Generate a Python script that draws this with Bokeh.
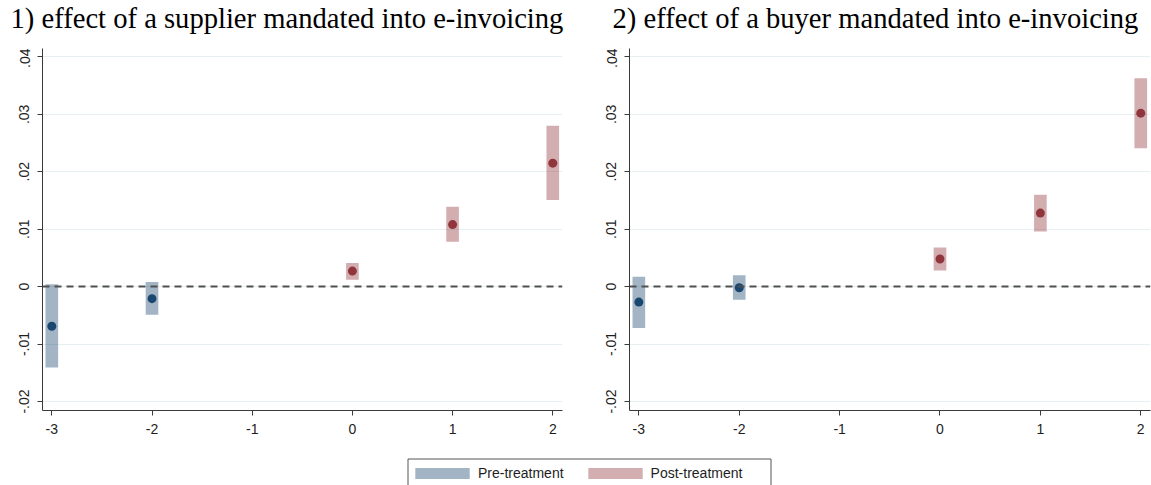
import numpy as np
from bokeh.plotting import figure
from bokeh.models import (ColumnDataSource, Span, FixedTicker, Legend,
                          LegendItem, Range1d)
from bokeh.core.properties import value
from bokeh.layouts import column, row
from bokeh.embed import file_html
from bokeh.resources import INLINE

# Event-study estimates (years relative to mandate; -1 is the reference year)
event_time = [-3, -2, 0, 1, 2]
phase = ["Pre-treatment", "Pre-treatment", "Post-treatment", "Post-treatment", "Post-treatment"]

supplier_coef = [-0.0069, -0.0021, 0.0027, 0.0108, 0.0215]
supplier_lo = [-0.0141, -0.0049, 0.0012, 0.0078, 0.0151]
supplier_hi = [0.0004, 0.0008, 0.0041, 0.0139, 0.0280]

buyer_coef = [-0.0027, -0.0002, 0.0048, 0.0128, 0.0302]
buyer_lo = [-0.0072, -0.0023, 0.0028, 0.0096, 0.0241]
buyer_hi = [0.0017, 0.0020, 0.0068, 0.0160, 0.0363]

x_ticks = [-3, -2, -1, 0, 1, 2]
x_tick_labels = ["-3", "-2", "-1", "0", "1", "2"]
y_ticks = [-0.02, -0.01, 0.0, 0.01, 0.02, 0.03, 0.04]
y_tick_labels = ["-.02", "-.01", "0", ".01", ".02", ".03", ".04"]

panel_titles = ["1) effect of a supplier mandated into e-invoicing",
                "2) effect of a buyer mandated into e-invoicing"]
legend_labels = ["Pre-treatment", "Post-treatment"]

NAVY = "#1a476f"
MAROON = "#90353b"
phase_color = {"Pre-treatment": NAVY, "Post-treatment": MAROON}

PAGE_W = 1151
TITLE_H = 48
FRAME_H = 362
BOTTOM = 26
MAIN_H = FRAME_H + BOTTOM
LEG_H = 485 - TITLE_H - MAIN_H
LABEL_FONT = "Liberation Sans"


def strip(height):
    """A blank full-width strip whose data units are pixels."""
    s = figure(width=PAGE_W, height=height, output_backend="svg",
               toolbar_location=None, min_border=0,
               x_range=Range1d(0, PAGE_W), y_range=Range1d(0, height))
    s.axis.visible = False
    s.grid.visible = False
    s.outline_line_color = None
    return s


def make_panel(coef, lo, hi, border_left, frame_w, border_right):
    src = ColumnDataSource(dict(
        t=event_time, coef=coef, lo=lo, hi=hi,
        color=[phase_color[ph] for ph in phase],
    ))
    p = figure(frame_width=frame_w, frame_height=FRAME_H,
               min_border_left=border_left, min_border_right=border_right,
               min_border_top=0, min_border_bottom=BOTTOM,
               x_range=Range1d(-3.093, 2.097), y_range=Range1d(-0.02157, 0.04146),
               output_backend="svg", toolbar_location=None,
               background_fill_color="white", border_fill_color="white")
    p.outline_line_color = None

    # confidence intervals as shaded bars
    p.vbar(x="t", bottom="lo", top="hi", width=0.126, source=src,
           fill_color="color", fill_alpha=0.4, line_color=None)

    zero = Span(location=0, dimension="width", line_color="#505050",
                line_width=2, line_dash="7 5", level="glyph")
    p.add_layout(zero)

    p.scatter(x="t", y="coef", source=src, size=9, fill_color="color",
              line_color="color", line_width=0)

    p.xaxis.ticker = FixedTicker(ticks=x_ticks, minor_ticks=[])
    p.xaxis.major_label_overrides = {t: s for t, s in zip(x_ticks, x_tick_labels)}
    p.yaxis.ticker = FixedTicker(ticks=y_ticks, minor_ticks=[])
    p.yaxis.major_label_overrides = {t: s for t, s in zip(y_ticks, y_tick_labels)}
    p.yaxis.major_label_orientation = "vertical"

    for ax in (p.xaxis, p.yaxis):
        ax.axis_line_color = "#3a3a3a"
        ax.axis_line_width = 1
        ax.major_tick_line_color = "#3a3a3a"
        ax.major_tick_out = 5
        ax.major_tick_in = 0
        ax.minor_tick_line_color = None
        ax.major_label_text_font = LABEL_FONT
        ax.major_label_text_font_size = "14px"
        ax.major_label_text_color = "#1e1e1e"
    p.xaxis.major_label_standoff = 8
    p.yaxis.major_label_standoff = 8

    p.xgrid.visible = False
    p.ygrid.grid_line_color = "#e6eff1"
    p.ygrid.grid_line_width = 1
    return p


# panel headings
heads = strip(TITLE_H)
heads.text(x=[10, 612], y=[30, 30], text=panel_titles,
           text_font=value("Liberation Serif"), text_font_size=value("28.6px"),
           text_color="black", text_baseline="alphabetic", text_align="left")

p1 = make_panel(supplier_coef, supplier_lo, supplier_hi, 42, 520, 18)
p2 = make_panel(buyer_coef, buyer_lo, buyer_hi, 49, 521, 1)

# shared key underneath both panels
leg = strip(LEG_H)
# frame around the key (its lower edge runs off the page)
leg.quad(left=[407.5], right=[770.5], top=[LEG_H - 22.5], bottom=[-10],
         fill_color=None, line_color="#555555", line_width=1)

items = []
for lab in legend_labels:
    r = leg.quad(left=[-30], right=[-20], top=[-30], bottom=[-40],
                 fill_color=phase_color[lab], fill_alpha=0.4, line_color=None)
    items.append(LegendItem(label=lab, renderers=[r]))
legend = Legend(items=items, orientation="horizontal", location=(408, 4),
                glyph_width=68, glyph_height=14, label_standoff=2, spacing=17,
                padding=0, margin=0, border_line_color=None,
                background_fill_alpha=0,
                label_text_font=LABEL_FONT, label_text_font_size="14px",
                label_text_color="#1e1e1e")
leg.add_layout(legend, "center")

layout = column(heads, row(p1, p2), leg)
open("out.html", "w").write(file_html(layout, INLINE))
